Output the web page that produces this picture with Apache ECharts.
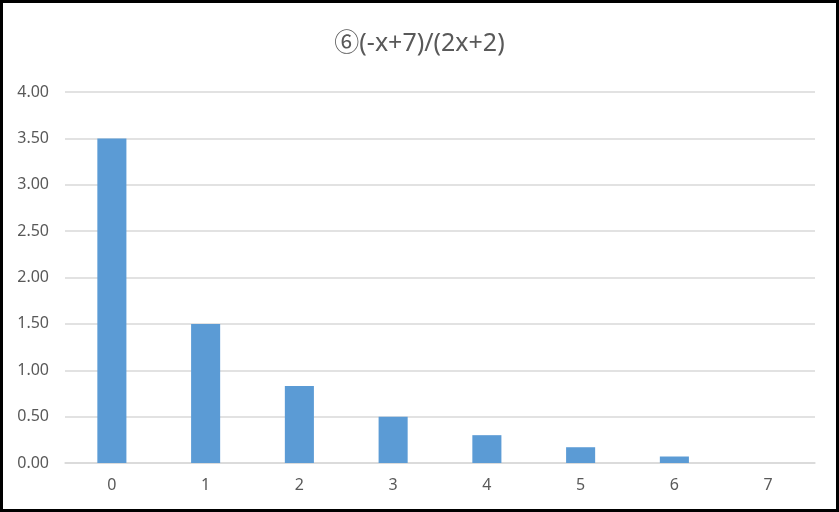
<!DOCTYPE html>
<html>
<head>
<meta charset="utf-8">
<script src="https://cdn.jsdelivr.net/npm/echarts@6/dist/echarts.min.js"></script>
<style>
  html, body { margin: 0; padding: 0; background: #fff; }
  #main { width: 839px; height: 512px; }
</style>
</head>
<body>
<div id="main"></div>
<script>
var titleText = '⑥(-x+7)/(2x+2)';
var categories = ['0', '1', '2', '3', '4', '5', '6', '7'];
var values = [3.50, 1.50, 0.83, 0.50, 0.30, 0.17, 0.07, 0.00];

var chart = echarts.init(document.getElementById('main'));
var fontFam = "'Noto Sans', 'Noto Sans CJK JP', sans-serif";

chart.setOption({
    backgroundColor: '#fff',
    animation: false,
    title: {
        text: titleText,
        left: 'center',
        top: 26,
        textStyle: { color: '#595959', fontSize: 25, fontWeight: 'normal', fontFamily: fontFam }
    },
    graphic: [{
        type: 'rect',
        shape: { x: 1.5, y: 1.5, width: 836, height: 509 },
        style: { fill: null, stroke: '#000', lineWidth: 3 },
        silent: true
    }],
    grid: { left: 65, right: 24, top: 92, bottom: 49 },
    xAxis: {
        type: 'category',
        data: categories,
        axisLine: { lineStyle: { color: '#d9d9d9', width: 1.5 } },
        axisTick: { show: false },
        axisLabel: { color: '#595959', fontSize: 16, fontFamily: fontFam, margin: 14 }
    },
    yAxis: {
        type: 'value',
        min: 0,
        max: 4,
        interval: 0.5,
        axisLine: { show: false },
        axisTick: { show: false },
        splitLine: { lineStyle: { color: '#d9d9d9', width: 1.5 } },
        axisLabel: {
            color: '#595959', fontSize: 16, fontFamily: fontFam, margin: 16,
            formatter: function (v) { return v.toFixed(2); }
        }
    },
    series: [{
        type: 'bar',
        data: values,
        barWidth: '31%',
        itemStyle: { color: '#5b9bd5' }
    }]
});
</script>
</body>
</html>
